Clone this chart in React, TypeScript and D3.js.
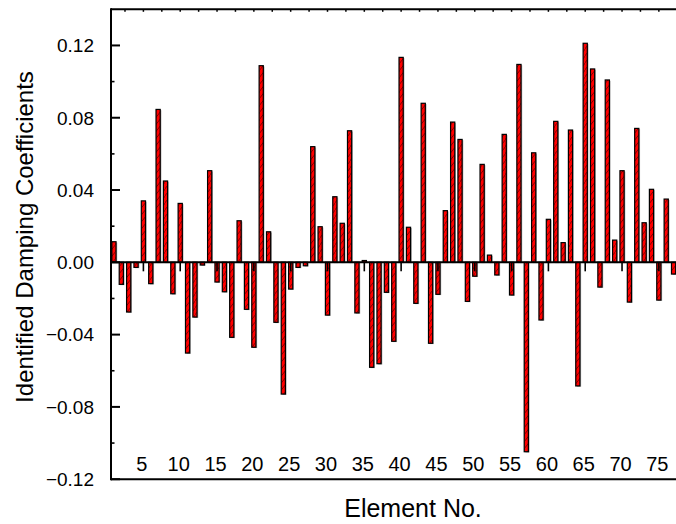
import React from "react";
import * as d3 from "d3";

const elements: number[] = Array.from({ length: 77 }, (_, i) => i + 1);
const coefficients: number[] = [
  0.0114, -0.0122, -0.0275, -0.0028, 0.034, -0.0118, 0.0846, 0.045, -0.0174, 0.0326,
  -0.0502, -0.0303, -0.0015, 0.0507, -0.0109, -0.0163, -0.0415, 0.023, -0.026, -0.047,
  0.1088, 0.0169, -0.0332, -0.0729, -0.0148, -0.0028, -0.0019, 0.064, 0.0197, -0.0292,
  0.0363, 0.0216, 0.0728, -0.028, 0.001, -0.0581, -0.0561, -0.0166, -0.0437, 0.1134,
  0.0194, -0.0227, 0.088, -0.0448, -0.0177, 0.0286, 0.0776, 0.068, -0.0216, -0.0077,
  0.0542, 0.004, -0.007, 0.0708, -0.0181, 0.1095, -0.1048, 0.0606, -0.0319, 0.0238,
  0.078, 0.0109, 0.0732, -0.0684, 0.1212, 0.107, -0.0137, 0.1009, 0.0123, 0.0507,
  -0.022, 0.0741, 0.0219, 0.0404, -0.0209, 0.035, -0.0065,
];
const xTicks: number[] = [5, 10, 15, 20, 25, 30, 35, 40, 45, 50, 55, 60, 65, 70, 75];
const yTicks: number[] = [-0.12, -0.08, -0.04, 0.0, 0.04, 0.08, 0.12];
const yMinorTicks: number[] = [-0.1, -0.06, -0.02, 0.02, 0.06, 0.1];
const topTicks: number[] = d3.range(2.5, 77.6, 2.5);

const W = 676;
const H = 524;
const FONT = "'Liberation Sans', Arial, sans-serif";

export default function App() {
  const x = d3.scaleLinear().domain([0.6, 77.6]).range([111, 678]);
  const y = d3.scaleLinear().domain([-0.12, 0.14]).range([479.2, 9.3]);
  const left = 111;
  const right = W;
  const y0 = y(0);
  const bw = 4.2;
  const fmt = (v: number) => (v === 0 ? "0.00" : d3.format(".2f")(v));

  return (
    <svg
      width={W}
      height={H}
      style={{ position: "fixed", top: 0, left: 0, background: "#fff" }}
      fontFamily={FONT}
    >
      <defs>
        <pattern id="hatch" patternUnits="userSpaceOnUse" width="5" height="7">
          <rect width="5" height="7" fill="#ff0000" />
          <path d="M-1,8 L6,-1" stroke="#500000" strokeWidth="0.7" />
        </pattern>
      </defs>
      <rect x={0} y={0} width={W} height={H} fill="#fff" />

      {/* bars */}
      {elements.map((e, i) => {
        const v = coefficients[i];
        const yt = Math.min(y(v), y0);
        const h = Math.max(Math.abs(y(v) - y0), 0.5);
        return (
          <g key={e}>
            <rect x={x(e) - bw / 2 + 1.2} y={yt + 0.8} width={bw} height={h} fill="#b0b0b0" />
            <rect
              x={x(e) - bw / 2}
              y={yt}
              width={bw}
              height={h}
              fill="url(#hatch)"
              stroke="#000"
              strokeWidth={1.2}
            />
          </g>
        );
      })}

      {/* zero axis with ticks */}
      <line x1={left} x2={right} y1={y0} y2={y0} stroke="#000" strokeWidth={2} />
      {xTicks.map((t) => (
        <line key={"zt" + t} x1={x(t)} x2={x(t)} y1={y0} y2={y0 + 9} stroke="#000" strokeWidth={1.6} />
      ))}

      {/* top axis */}
      <line x1={left} x2={right} y1={y(0.14)} y2={y(0.14)} stroke="#000" strokeWidth={2} />
      {topTicks.map((t) => (
        <line key={"tt" + t} x1={x(t)} x2={x(t)} y1={y(0.14)} y2={y(0.14) + 2.5} stroke="#000" strokeWidth={1.5} />
      ))}

      {/* bottom axis */}
      <line x1={left} x2={right} y1={y(-0.12)} y2={y(-0.12)} stroke="#000" strokeWidth={2} />

      {/* left axis */}
      <line x1={left} x2={left} y1={y(0.14) - 1} y2={y(-0.12) + 1} stroke="#000" strokeWidth={2} />
      {yTicks.map((t) => (
        <line key={"yt" + t} x1={left} x2={left + 9} y1={y(t)} y2={y(t)} stroke="#000" strokeWidth={2} />
      ))}
      {yMinorTicks.map((t) => (
        <line key={"ym" + t} x1={left} x2={left + 3.5} y1={y(t)} y2={y(t)} stroke="#000" strokeWidth={1.6} />
      ))}
      {yTicks.map((t) => (
        <text key={"yl" + t} x={94} y={y(t)} dy="0.36em" textAnchor="end" fontSize={19} fill="#000">
          {fmt(t)}
        </text>
      ))}

      {/* x tick labels */}
      {xTicks.map((t) => (
        <text key={"xl" + t} x={x(t) - 1.5} y={471} textAnchor="middle" fontSize={20} fill="#000">
          {t}
        </text>
      ))}

      {/* titles */}
      <text x={413} y={517} textAnchor="middle" fontSize={25} fill="#000">
        Element No.
      </text>
      <text
        transform={`translate(33,${237}) rotate(-90)`}
        textAnchor="middle"
        fontSize={24}
        fill="#000"
      >
        Identified Damping Coefficients
      </text>
    </svg>
  );
}
